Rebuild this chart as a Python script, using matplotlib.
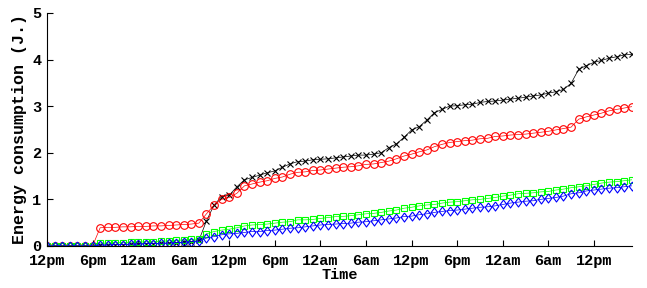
import matplotlib.pyplot as plt
import numpy as np

plt.rcParams['font.family'] = ['Liberation Mono', 'DejaVu Sans Mono']
plt.rcParams['font.weight'] = 'bold'

# hourly samples, hour 0 = 12pm of the first day
hours = np.arange(78)

black_x = [0, 0, 0, 0, 0, 0, 0, 0.02, 0.02, 0.03, 0.03, 0.04, 0.04, 0.05, 0.05, 0.06,
           0.06, 0.07, 0.08, 0.09, 0.12,
           0.54, 0.88, 1.06, 1.09, 1.27, 1.42, 1.47, 1.52, 1.57, 1.61, 1.69, 1.76, 1.81,
           1.82, 1.85, 1.86, 1.87, 1.89, 1.91, 1.93, 1.95, 1.95, 1.97, 2.00, 2.11, 2.19,
           2.33, 2.49, 2.56, 2.70, 2.86, 2.93, 3.00, 3.01, 3.03, 3.04, 3.08, 3.10, 3.11,
           3.13, 3.15, 3.17, 3.19, 3.22, 3.24, 3.28, 3.31, 3.36, 3.49, 3.79, 3.87, 3.94,
           3.98, 4.03, 4.06, 4.10, 4.11]

red_o = [0, 0, 0, 0, 0, 0, 0, 0.39, 0.40, 0.40, 0.41, 0.41, 0.42, 0.42, 0.43, 0.43,
         0.44, 0.45, 0.46, 0.47, 0.49,
         0.69, 0.88, 1.00, 1.04, 1.13, 1.29, 1.33, 1.37, 1.40, 1.45, 1.48, 1.54, 1.58,
         1.59, 1.62, 1.63, 1.65, 1.67, 1.69, 1.70, 1.72, 1.75, 1.76, 1.79, 1.82, 1.87,
         1.93, 1.97, 2.02, 2.06, 2.13, 2.18, 2.22, 2.24, 2.26, 2.27, 2.30, 2.31, 2.35,
         2.36, 2.38, 2.39, 2.40, 2.42, 2.44, 2.46, 2.49, 2.52, 2.55, 2.72, 2.77, 2.81,
         2.85, 2.90, 2.93, 2.96, 2.99]

green_s = [0, 0, 0, 0, 0, 0, 0, 0.06, 0.06, 0.07, 0.07, 0.08, 0.08, 0.09, 0.09, 0.10,
           0.11, 0.12, 0.13, 0.14, 0.15,
           0.26, 0.31, 0.34, 0.36, 0.39, 0.43, 0.45, 0.46, 0.47, 0.49, 0.51, 0.52, 0.56,
           0.56, 0.57, 0.59, 0.61, 0.63, 0.635, 0.65, 0.67, 0.69, 0.70, 0.72, 0.75, 0.77,
           0.81, 0.83, 0.86, 0.88, 0.89, 0.92, 0.94, 0.95, 0.97, 0.99, 1.00, 1.02, 1.04,
           1.07, 1.09, 1.12, 1.13, 1.14, 1.16, 1.17, 1.20, 1.22, 1.25, 1.27, 1.29, 1.32,
           1.35, 1.37, 1.38, 1.40, 1.42]

blue_d = [0, 0, 0, 0, 0, 0, 0, 0.02, 0.02, 0.03, 0.03, 0.04, 0.04, 0.05, 0.05, 0.06,
          0.06, 0.07, 0.08, 0.09, 0.10,
          0.17, 0.20, 0.24, 0.26, 0.27, 0.29, 0.31, 0.31, 0.33, 0.34, 0.36, 0.38, 0.39,
          0.41, 0.43, 0.45, 0.46, 0.47, 0.48, 0.49, 0.51, 0.52, 0.54, 0.56, 0.58, 0.60,
          0.63, 0.64, 0.67, 0.69, 0.72, 0.74, 0.76, 0.77, 0.79, 0.81, 0.83, 0.84, 0.86,
          0.89, 0.92, 0.94, 0.96, 0.97, 1.00, 1.02, 1.04, 1.07, 1.12, 1.14, 1.18, 1.20,
          1.22, 1.24, 1.25, 1.27, 1.29]

tick_hours = np.arange(0, 73, 6)
tick_labels = ['12pm', '6pm', '12am', '6am'] * 3 + ['12pm']

# diamond a bit taller than wide
diamond = [(0, 1), (0.72, 0), (0, -1), (-0.72, 0), (0, 1)]

fig = plt.figure(figsize=(6.47, 2.88), dpi=100)
ax = fig.add_axes([0.0726, 0.146, 0.904, 0.809])

ax.plot(hours, black_x, color='black', marker='x', ms=4, mew=0.8, lw=0.5)
ax.plot(hours, red_o, color='red', marker='o', ms=5.5, mfc='none', mew=0.8, lw=0.5)
ax.plot(hours, green_s, color='#00ff00', marker='s', ms=5, mfc='none', mew=0.8, lw=0.5)
ax.plot(hours, blue_d, color='blue', marker=diamond, ms=6.5, mfc='none', mew=0.8, lw=0.5)

ax.set_xlim(0, 77)
ax.set_ylim(0, 5)
ax.set_xticks(tick_hours)
ax.set_xticklabels(tick_labels)
ax.set_yticks(range(6))
ax.tick_params(direction='in', length=4, labelsize=11)
ax.tick_params(axis='x', pad=6)
ax.tick_params(axis='y', pad=4)
ax.spines['top'].set_visible(False)
ax.spines['right'].set_visible(False)
ax.set_xlabel('Time', fontsize=11, fontweight='bold', labelpad=0)
ax.set_ylabel('Energy consumption (J.)', fontsize=12, fontweight='bold', labelpad=4)

fig.savefig('out.png', dpi=100)
